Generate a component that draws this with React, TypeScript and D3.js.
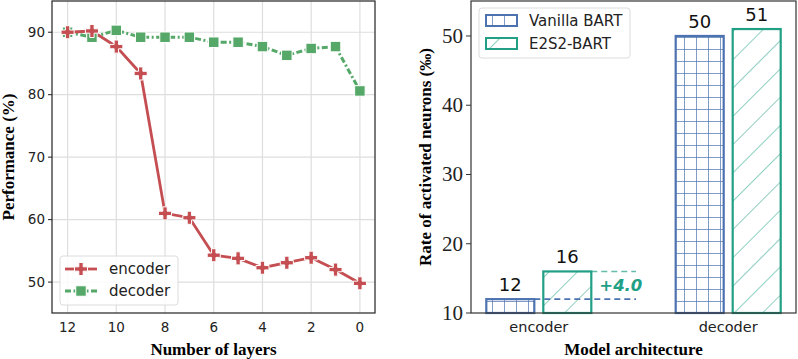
import React from 'react';
import * as d3 from 'd3';

// left panel: performance when layers are kept
const layers = [12, 11, 10, 9, 8, 7, 6, 5, 4, 3, 2, 1, 0];
const encoderPerf = [90.0, 90.2, 87.7, 83.4, 61.0, 60.3, 54.3, 53.8, 52.3, 53.1, 53.9, 52.0, 49.8];
const decoderPerf = [90.0, 89.2, 90.3, 89.2, 89.2, 89.2, 88.4, 88.4, 87.7, 86.3, 87.4, 87.7, 80.6];
const layerTicks = [12, 10, 8, 6, 4, 2, 0];
const perfTicks = [50, 60, 70, 80, 90];

// right panel: activated neurons
const archs = ['encoder', 'decoder'];
const models = ['Vanilla BART', 'E2S2-BART'];
const vanillaRate = [12, 50];
const e2s2Rate = [16, 51];
const rateTicks = [10, 20, 30, 40, 50];

const RED = '#c44e52';
const GREEN = '#55a868';
const BLUE = '#4c72b0';
const TEAL = '#22a085';
const SANS = '"DejaVu Sans", sans-serif';
const SERIF = '"Liberation Serif", "Times New Roman", serif';
const DECODER_DASH = '6,2.5,2,2.5';

const W = 798;
const H = 359;

const L = { left: 52, right: 375, top: 1, bottom: 313 };
const R = { left: 471, right: 796, top: 1, bottom: 313 };

export default function App() {
  const x = d3.scaleLinear().domain([12.64, -0.62]).range([L.left, L.right]);
  const y = d3.scaleLinear().domain([45.05, 95.0]).range([L.bottom, L.top]);

  const line = d3.line<number>()
    .x((_, i) => x(layers[i]))
    .y(d => y(d));

  const xg = d3.scalePoint<string>().domain(archs).range([R.left, R.right]).padding(0.358);
  const xs = d3.scaleBand<string>().domain(models).range([-52.5, 52.5]).paddingInner(0.158);
  const yr = d3.scaleLinear().domain([10, 55.05]).range([R.bottom, R.top]);

  const cross = d3.symbol().type(d3.symbolCross).size(95)();
  const square = d3.symbol().type(d3.symbolSquare).size(110)();

  const series = [
    { name: models[0], values: vanillaRate, color: BLUE, fill: 'url(#grid)' },
    { name: models[1], values: e2s2Rate, color: TEAL, fill: 'url(#diag)' },
  ];
  const bw = xs.bandwidth();

  return (
    <svg width={W} height={H} style={{ position: 'absolute', left: 0, top: 0, background: '#fff' }}>
      <defs>
        <pattern id="grid" patternUnits="userSpaceOnUse" width="12" height="12" x="0" y={R.bottom}>
          <rect width="12" height="12" fill="#fff" />
          <line x1="0" y1="0.5" x2="12" y2="0.5" stroke={BLUE} strokeOpacity="0.7" strokeWidth="1" />
          <line x1="0.5" y1="0" x2="0.5" y2="12" stroke={BLUE} strokeOpacity="0.7" strokeWidth="1" />
        </pattern>
        <pattern id="diag" patternUnits="userSpaceOnUse" width="20" height="20" patternTransform="rotate(45)">
          <rect width="20" height="20" fill="#fff" />
          <line x1="0" y1="0" x2="0" y2="20" stroke={TEAL} strokeWidth="1" />
        </pattern>
        <clipPath id="lclip">
          <rect x={L.left} y={L.top} width={L.right - L.left} height={L.bottom - L.top} />
        </clipPath>
      </defs>

      {/* ---------- left panel ---------- */}
      <g>
        {layerTicks.map(t => (
          <line key={'gx' + t} x1={x(t)} x2={x(t)} y1={L.top} y2={L.bottom} stroke="#dedede" strokeWidth={1.2} />
        ))}
        {perfTicks.map(t => (
          <line key={'gy' + t} x1={L.left} x2={L.right} y1={y(t)} y2={y(t)} stroke="#dedede" strokeWidth={1.2} />
        ))}
        <g clipPath="url(#lclip)">
          <path d={line(decoderPerf) || ''} fill="none" stroke={GREEN} strokeWidth={3} strokeDasharray={DECODER_DASH} />
          <path d={line(encoderPerf) || ''} fill="none" stroke={RED} strokeWidth={2.8} />
          {decoderPerf.map((v, i) => (
            <path key={'dm' + i} d={square || ''} transform={`translate(${x(layers[i])},${y(v)})`} fill={GREEN} stroke="#fff" strokeWidth={1} />
          ))}
          {encoderPerf.map((v, i) => (
            <path key={'em' + i} d={cross || ''} transform={`translate(${x(layers[i])},${y(v)})`} fill={RED} stroke="#fff" strokeWidth={1} />
          ))}
        </g>
        <rect x={L.left} y={L.top} width={L.right - L.left} height={L.bottom - L.top} fill="none" stroke="#222" strokeWidth={1.2} />
        {perfTicks.map(t => (
          <g key={'ty' + t}>
            <line x1={L.left - 4} x2={L.left} y1={y(t)} y2={y(t)} stroke="#222" />
            <text x={L.left - 7} y={y(t)} dy="0.35em" textAnchor="end" fontFamily={SANS} fontSize={13.5} fill="#222">{t}</text>
          </g>
        ))}
        {layerTicks.map(t => (
          <text key={'tx' + t} x={x(t)} y={L.bottom + 19} textAnchor="middle" fontFamily={SANS} fontSize={13.5} fill="#222">{t}</text>
        ))}
        <text x={(L.left + L.right) / 2} y={355} textAnchor="middle" fontFamily={SERIF} fontWeight="bold" fontSize={17}>Number of layers</text>
        <text transform={`translate(14,${(L.top + L.bottom) / 2}) rotate(-90)`} textAnchor="middle" fontFamily={SERIF} fontWeight="bold" fontSize={17}>Performance (%)</text>

        {/* legend */}
        <rect x={60} y={256} width={118} height={49} rx={3} fill="#fff" fillOpacity={0.85} stroke="#dcdcdc" />
        <line x1={65} x2={97} y1={269} y2={269} stroke={RED} strokeWidth={2.8} />
        <path d={cross || ''} transform="translate(81,269)" fill={RED} stroke="#fff" strokeWidth={1} />
        <text x={109} y={269} dy="0.35em" fontFamily={SANS} fontSize={15} fill="#222">encoder</text>
        <line x1={65} x2={97} y1={291} y2={291} stroke={GREEN} strokeWidth={3} strokeDasharray={DECODER_DASH} />
        <path d={square || ''} transform="translate(81,291)" fill={GREEN} stroke="#fff" strokeWidth={1} />
        <text x={109} y={291} dy="0.35em" fontFamily={SANS} fontSize={15} fill="#222">decoder</text>
      </g>

      {/* ---------- right panel ---------- */}
      <g>
        {series.map(s =>
          archs.map((a, i) => {
            const bx = (xg(a) || 0) + (xs(s.name) || 0);
            return (
              <g key={s.name + a}>
                <rect x={bx} y={yr(s.values[i])} width={bw} height={yr(10) - yr(s.values[i])} fill={s.fill} stroke={s.color} strokeWidth={2.2} />
                <text x={bx + bw / 2} y={yr(s.values[i]) - 8} textAnchor="middle" fontFamily={SANS} fontSize={18} fill="#111">{s.values[i]}</text>
              </g>
            );
          })
        )}
        {/* gain annotation on encoder */}
        <line x1={(xg('encoder') || 0) + (xs(models[0]) || 0) + bw} x2={636} y1={yr(vanillaRate[0])} y2={yr(vanillaRate[0])} stroke={BLUE} strokeWidth={1.6} strokeDasharray="6,4" />
        <line x1={(xg('encoder') || 0) + (xs(models[1]) || 0) + bw} x2={636} y1={yr(e2s2Rate[0])} y2={yr(e2s2Rate[0])} stroke={TEAL} strokeOpacity={0.7} strokeWidth={1.6} strokeDasharray="6,4" />
        <text x={(xg('encoder') || 0) + (xs(models[1]) || 0) + bw + 8} y={yr((vanillaRate[0] + e2s2Rate[0]) / 2)} dy="0.35em" fontFamily={SANS} fontSize={16.5} fontWeight="bold" fontStyle="italic" fill={TEAL}>
          +{(e2s2Rate[0] - vanillaRate[0]).toFixed(1)}
        </text>

        <rect x={R.left} y={R.top} width={R.right - R.left} height={R.bottom - R.top} fill="none" stroke="#333" strokeWidth={1.2} />
        {rateTicks.map(t => (
          <g key={'ry' + t}>
            <line x1={R.left - 5} x2={R.left} y1={yr(t)} y2={yr(t)} stroke="#333" />
            <text x={R.left - 8} y={yr(t)} dy="0.33em" textAnchor="end" fontFamily={SERIF} fontSize={21} fill="#222">{t}</text>
          </g>
        ))}
        {archs.map(a => (
          <text key={'rx' + a} x={xg(a)} y={R.bottom + 19} textAnchor="middle" fontFamily={SANS} fontSize={14.5} fill="#222">{a}</text>
        ))}
        <text x={(R.left + R.right) / 2} y={355} textAnchor="middle" fontFamily={SERIF} fontWeight="bold" fontSize={17}>Model architecture</text>
        <text transform={`translate(431,${(R.top + R.bottom) / 2}) rotate(-90)`} textAnchor="middle" fontFamily={SERIF} fontWeight="bold" fontSize={17}>Rate of activated neurons (‰)</text>

        {/* legend */}
        <rect x={479} y={8} width={151} height={50} rx={3} fill="#fff" stroke="#dcdcdc" />
        {series.map((s, i) => (
          <g key={'lg' + s.name}>
            <rect x={486} y={15 + i * 23} width={31} height={11} fill={s.fill} stroke={s.color} strokeWidth={2} />
            <text x={529} y={21 + i * 23} dy="0.35em" fontFamily={SANS} fontSize={15} fill="#222">{s.name}</text>
          </g>
        ))}
      </g>
    </svg>
  );
}
